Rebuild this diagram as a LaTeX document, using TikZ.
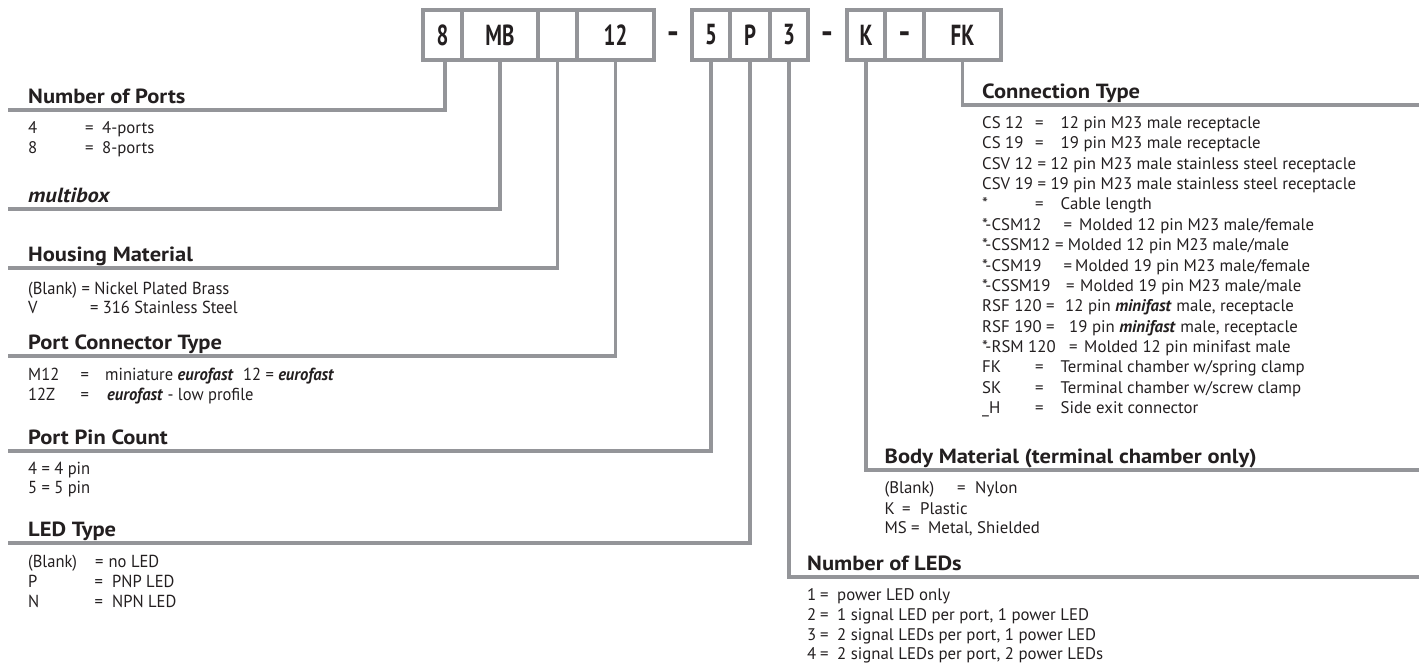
\documentclass[tikz,border=0pt]{standalone}
\usepackage{fontspec}
\setmainfont{PT Sans}
\newfontfamily\condfont[FakeStretch=0.95]{PT Sans}
\newfontfamily\headfont[FakeStretch=1.1]{PT Sans}
\newfontfamily\boxfont[FakeStretch=0.72]{PT Sans}
\definecolor{lg}{RGB}{148,149,153}
\definecolor{ink}{RGB}{35,31,32}
\newcommand\bi[1]{\textbf{\textit{#1}}}
\tikzset{
  conn/.style={draw=lg, line width=3.5pt},
  cell/.style={draw=lg, line width=3.3pt, fill=white, minimum height=50pt, inner sep=0pt,
    font=\boxfont\bfseries\fontsize{29}{29}\selectfont, text=ink},
  dashmark/.style={inner sep=0pt, font=\bfseries\fontsize{34}{34}\selectfont, text=ink},
  head/.style={anchor=base west, inner sep=0pt, font=\headfont\bfseries\fontsize{20.5}{20.5}\selectfont, text=ink},
  itm/.style={anchor=base west, inner sep=0pt, font=\fontsize{16.8}{16.8}\selectfont, text=ink},
  citm/.style={anchor=base west, inner sep=0pt, font=\condfont\fontsize{17.4}{17.4}\selectfont, text=ink},
}
\newcommand\crow[5]{%
  \node[itm] (ct#1a) at (982,{128.5+20.36*#1}) {#2};
  \node[itm] (ct#1b) at (#3,{128.5+20.36*#1}) {=};
  \node[itm] (ct#1c) at (#4,{128.5+20.36*#1}) {#5};}
\begin{document}
\begin{tikzpicture}[x=1pt,y=-1pt]
\useasboundingbox (0,0) rectangle (1419,664);
% ---------- code boxes ----------
\node[cell, minimum width=39pt] (b8)  at (442.5,35) {8};
\node[cell, minimum width=76pt] (bMB) at (500,35)   {MB};
\node[cell, minimum width=39pt] (bBl) at (557.5,35) {};
\node[cell, minimum width=77pt] (b12) at (615.5,35) {12};
\node[dashmark] (d1) at (673,38) {-};
\node[cell, minimum width=38pt] (b5)  at (711,35)   {5};
\node[cell, minimum width=40pt] (bP)  at (750,35)   {P};
\node[cell, minimum width=38pt] (b3)  at (789,35)   {3};
\node[dashmark] (d2) at (827,38) {-};
\node[cell, minimum width=38pt] (bK)  at (866,35)   {K};
\node[cell, minimum width=39pt] (bD)  at (904.5,35) {};
\node[dashmark] (d3) at (904.5,38) {-};
\node[cell, minimum width=77pt] (bFK) at (962.5,35) {FK};
% ---------- connector corners ----------
\coordinate (eNoP) at (8,110);   \coordinate (hNoP) at (445,110);
\coordinate (eMB)  at (8,209);   \coordinate (hMB)  at (500,209);
\coordinate (eHM)  at (8,268);   \coordinate (hHM)  at (557.5,268);
\coordinate (ePCT) at (8,356);   \coordinate (hPCT) at (615.5,356);
\coordinate (ePPC) at (8,451);   \coordinate (hPPC) at (711,451);
\coordinate (eLED) at (8,543);   \coordinate (hLED) at (750,543);
\coordinate (eCT)  at (1419,105); \coordinate (hCT) at (962.5,105);
\coordinate (eBM)  at (1419,470); \coordinate (hBM) at (866,470);
\coordinate (eNL)  at (1419,577); \coordinate (hNL) at (789,577);
\draw[conn] (eNoP) -- (hNoP) -- (hNoP |- b8.south);
\draw[conn] (eMB)  -- (hMB)  -- (bMB.south);
\draw[conn] (eHM)  -- (hHM)  -- (bBl.south);
\draw[conn] (ePCT) -- (hPCT) -- (b12.south);
\draw[conn] (ePPC) -- (hPPC) -- (b5.south);
\draw[conn] (eLED) -- (hLED) -- (bP.south);
\draw[conn] (eCT)  -- (hCT)  -- (bFK.south);
\draw[conn] (eBM)  -- (hBM)  -- (bK.south);
\draw[conn] (eNL)  -- (hNL)  -- (b3.south);
% ---------- left column ----------
\node[head] (tNoP) at (28,103) {Number of Ports};
\node[itm] (n1a) at (28,133.5) {4}; \node[itm] (n1b) at (85,133.5) {=}; \node[itm] (n1c) at (102,133.5) {4-ports};
\node[itm] (n2a) at (28,153.5) {8}; \node[itm] (n2b) at (85,153.5) {=}; \node[itm] (n2c) at (102,153.5) {8-ports};
\node[head] (tMB) at (28,202) {\itshape multibox};
\node[head] (tHM) at (28,261) {Housing Material};
\node[citm] (h1) at (28,294) {(Blank) = Nickel Plated Brass};
\node[citm] (h2a) at (28,313) {V}; \node[citm] (h2b) at (90,313) {= 316 Stainless Steel};
\node[head] (tPCT) at (28,349) {Port Connector Type};
\node[citm] (p1a) at (28,380.5) {M12}; \node[citm] (p1b) at (80.5,380.5) {=};
\node[citm] (p1c) at (105,380.5) {miniature \bi{eurofast}\hspace{5pt} 12 = \bi{eurofast}};
\node[citm] (p2a) at (28,400.5) {12Z}; \node[citm] (p2b) at (80.5,400.5) {=};
\node[citm] (p2c) at (107,400.5) {\bi{eurofast} - low profile};
\node[head] (tPPC) at (28,444) {Port Pin Count};
\node[citm] (q1) at (28,474.5) {4 = 4 pin};
\node[citm] (q2) at (28,493.5) {5 = 5 pin};
\node[head] (tLED) at (28,536) {LED Type};
\node[citm] (l1a) at (28,567) {(Blank)}; \node[citm] (l1b) at (95,567) {=}; \node[citm] (l1c) at (108.5,567) {no LED};
\node[citm] (l2a) at (28,587) {P}; \node[citm] (l2b) at (94.5,587) {=}; \node[citm] (l2c) at (112,587) {PNP LED};
\node[citm] (l3a) at (28,607) {N}; \node[citm] (l3b) at (94.5,607) {=}; \node[citm] (l3c) at (112,607) {NPN LED};
% ---------- right column ----------
\node[head] (tCT) at (982,98) {Connection Type};
\crow{0}{CS 12}{1035}{1060.5}{12 pin M23 male receptacle}
\crow{1}{CS 19}{1035}{1060.5}{19 pin M23 male receptacle}
\node[itm] (ct2) at (982,{128.5+20.36*2}) {CSV 12 = 12 pin M23 male stainless steel receptacle};
\node[itm] (ct3) at (982,{128.5+20.36*3}) {CSV 19 = 19 pin M23 male stainless steel receptacle};
\crow{4}{*}{1035}{1060.5}{Cable length}
\crow{5}{*-CSM12}{1063.5}{1079}{Molded 12 pin M23 male/female}
\node[itm] (ct6) at (982,{128.5+20.36*6}) {*-CSSM12 = Molded 12 pin M23 male/male};
\crow{7}{*-CSM19}{1063.5}{1075}{Molded 19 pin M23 male/female}
\crow{8}{*-CSSM19}{1066}{1080}{Molded 19 pin M23 male/male}
\crow{9}{RSF 120}{1046}{1065}{12 pin \bi{minifast} male, receptacle}
\crow{10}{RSF 190}{1046}{1069}{19 pin \bi{minifast} male, receptacle}
\crow{11}{*-RSM 120}{1069}{1084}{Molded 12 pin minifast male}
\crow{12}{FK}{1035}{1060.5}{Terminal chamber w/spring clamp}
\crow{13}{SK}{1035}{1060.5}{Terminal chamber w/screw clamp}
\crow{14}{\_H}{1035}{1060.5}{Side exit connector}
\node[head] (tBM) at (884.5,463) {Body Material (terminal chamber only)};
\node[itm] (bm1a) at (884.5,493.5) {(Blank)}; \node[itm] (bm1b) at (957,493.5) {=}; \node[itm] (bm1c) at (975,493.5) {Nylon};
\node[itm] (bm2a) at (884.5,514) {K}; \node[itm] (bm2b) at (902,514) {=}; \node[itm] (bm2c) at (920,514) {Plastic};
\node[itm] (bm3a) at (884.5,533.5) {MS}; \node[itm] (bm3b) at (911,533.5) {=}; \node[itm] (bm3c) at (928,533.5) {Metal, Shielded};
\node[head] (tNL) at (807,570) {Number of LEDs};
\node[itm] (nl1a) at (807,600) {1}; \node[itm] (nl1b) at (820,600) {=}; \node[itm] (nl1c) at (837,600) {power LED only};
\node[itm] (nl2a) at (807,620) {2}; \node[itm] (nl2b) at (820,620) {=}; \node[itm] (nl2c) at (837,620) {1 signal LED per port, 1 power LED};
\node[itm] (nl3a) at (807,640) {3}; \node[itm] (nl3b) at (820,640) {=}; \node[itm] (nl3c) at (837,640) {2 signal LEDs per port, 1 power LED};
\node[itm] (nl4a) at (807,659.5) {4}; \node[itm] (nl4b) at (820,659.5) {=}; \node[itm] (nl4c) at (837,659.5) {2 signal LEDs per port, 2 power LEDs};
\end{tikzpicture}
\end{document}
